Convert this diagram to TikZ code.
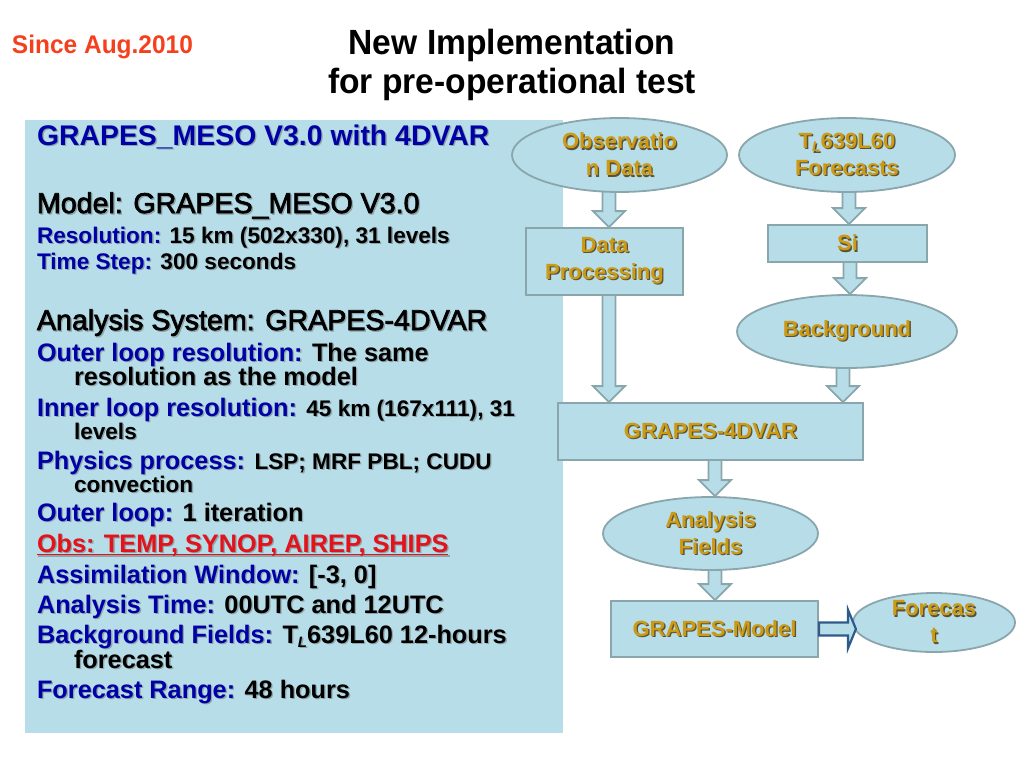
\documentclass[tikz,border=0pt]{standalone}
\usepackage{fontspec}
\setmainfont{Liberation Sans}
\newfontfamily\titlef[FakeStretch=0.96]{Liberation Sans}
\newfontfamily\medf[FakeBold=2.5]{Liberation Sans}
\usetikzlibrary{shapes.geometric,calc}
\definecolor{panelfill}{HTML}{B7DDE8}
\definecolor{nodeline}{HTML}{8AA6AD}
\definecolor{dblue}{HTML}{0000A6}
\definecolor{obsred}{HTML}{E3121B}
\definecolor{gold}{HTML}{CC9A14}
\definecolor{goldsh}{HTML}{5B5236}
\definecolor{bodysh}{HTML}{8EA4A9}
\definecolor{since}{HTML}{F5401E}
\definecolor{harrowc}{HTML}{2F5B8C}
\pgfdeclarelayer{bg}\pgfsetlayers{bg,main}
\newcommand\gobblearg[1]{}
\newcommand\shd[2]{\makebox[0pt][l]{\kern1.3pt\raisebox{-1.3pt}{\color{#1}\let\color\gobblearg #2}}#2}
\newcommand\bs[1]{\shd{bodysh}{#1}}
\newcommand\gs[1]{\shd{goldsh}{#1}}
\newcommand\myul[1]{{\setbox0=\hbox{#1}\rlap{\rule[-3.4pt]{\wd0}{1.8pt}}\box0}}
\newcommand\fH{\bfseries\fontsize{28.4}{30}\selectfont}
\newcommand\fM{\medf\fontsize{28.6}{31}\selectfont}
\newcommand\fS{\bfseries\fontsize{25.3}{27}\selectfont}
\newcommand\fR{\bfseries\fontsize{22.6}{24}\selectfont}
\newcommand\fN{\bfseries\fontsize{22}{27}\selectfont}
\newcommand\subL[1]{\raisebox{-0.3ex}{\fontsize{#1}{#1}\selectfont\itshape L}}
\newcommand\varrow[3]{%
\begin{pgfonlayer}{bg}
\draw[barrow] ($(#1,0 |- #2.south)+(-6.5,-8)$) -- ($(#1,0 |- #3.north)+(-6.5,-16)$) -- ($(#1,0 |- #3.north)+(-16,-16)$) -- (#1,0 |- #3.north) -- ($(#1,0 |- #3.north)+(16,-16)$) -- ($(#1,0 |- #3.north)+(6.5,-16)$) -- ($(#1,0 |- #2.south)+(6.5,-8)$) -- cycle;
\end{pgfonlayer}}
\begin{document}
\begin{tikzpicture}[x=1pt,y=-1pt,
  line/.style={anchor=base west, inner sep=0pt, outer sep=0pt},
  boxnode/.style={draw=nodeline, line width=1.8pt, fill=panelfill, rectangle, inner sep=0pt, font=\fN, text=gold, align=center},
  ellnode/.style={boxnode, ellipse, inner xsep=0pt, inner ysep=-8pt},
  barrow/.style={draw=nodeline, line width=1.8pt, fill=panelfill, line join=miter},
  harrow/.style={draw=harrowc, line width=2.2pt, fill=panelfill, line join=miter}]
\useasboundingbox (0,0) rectangle (1024,768);
% title
\node[line, text=since, font=\titlef\bfseries\fontsize{25.5}{27}\selectfont] (since) at (12,53) {Since Aug.2010};
\node[anchor=base, inner sep=0pt, font=\titlef\bfseries\fontsize{35}{38}\selectfont] (t1) at (512,55) {New Implementation};
\node[anchor=base, inner sep=0pt, font=\titlef\bfseries\fontsize{35}{38}\selectfont] (t2) at (512,93) {for pre-operational test};
% left panel
\node[fill=panelfill, inner sep=0pt, minimum width=538pt, minimum height=613pt] (panel) at (294,426.5) {};
\node[line, font=\fH, text=dblue] (l1) at (37,145) {\bs{GRAPES\_MESO V3.0 with 4DVAR}};
\node[line, font=\fM] (l2) at (37,213) {\bs{Model: GRAPES\_MESO V3.0}};
\node[line, font=\fR] (l3) at (37,243) {\bs{{\color{dblue}Resolution:} 15 km (502x330), 31 levels}};
\node[line, font=\fR] (l4) at (37,269) {\bs{{\color{dblue}Time Step:} 300 seconds}};
\node[line, font=\fM] (l5) at (37,330) {\bs{Analysis System: GRAPES-4DVAR}};
\node[line, font=\fS] (l6) at (37,361) {\bs{{\color{dblue}Outer loop resolution:} The same}};
\node[line, font=\fS] (l7) at (74,385) {\bs{resolution as the model}};
\node[line, font=\fS] (l8) at (37,416) {\bs{{\color{dblue}Inner loop resolution:} {\fR 45 km (167x111), 31}}};
\node[line, font=\fR] (l9) at (74,439) {\bs{levels}};
\node[line, font=\fS] (l10) at (37,469) {\bs{{\color{dblue}Physics process:} {\fR LSP; MRF PBL; CUDU}}};
\node[line, font=\fR] (l11) at (74,492) {\bs{convection}};
\node[line, font=\fS] (l12) at (37,521) {\bs{{\color{dblue}Outer loop:} 1 iteration}};
\node[line, font=\fS, text=obsred] (l13) at (37,552) {\bs{\myul{Obs: TEMP, SYNOP, AIREP, SHIPS}}};
\node[line, font=\fS] (l14) at (37,583) {\bs{{\color{dblue}Assimilation Window:} [-3, 0]}};
\node[line, font=\fS] (l15) at (37,613) {\bs{{\color{dblue}Analysis Time:} 00UTC and 12UTC}};
\node[line, font=\fS] (l16) at (37,643) {\bs{{\color{dblue}Background Fields:} T\subL{15}639L60 12-hours}};
\node[line, font=\fS] (l17) at (74,668) {\bs{forecast}};
\node[line, font=\fS] (l18) at (37,698) {\bs{{\color{dblue}Forecast Range:} 48 hours}};
% flow chart
\node[ellnode, minimum width=215pt, minimum height=74pt] (obs) at (619.5,155) {\gs{Observatio}\\\gs{n Data}};
\node[ellnode, minimum width=216pt, minimum height=74pt] (tl) at (847,155) {\gs{T\subL{14}639L60}\\\gs{Forecasts}};
\node[boxnode, minimum width=157pt, minimum height=67pt] (dp) at (604.5,261.5) {\gs{Data}\\\gs{Processing}};
\node[boxnode, minimum width=159pt, minimum height=37pt] (si) at (847.5,243.5) {\gs{Si}};
\node[ellnode, minimum width=220pt, minimum height=73pt] (bg) at (847,331.5) {\gs{Background}};
\node[boxnode, minimum width=305pt, minimum height=57pt] (gv) at (710.5,431.5) {\gs{GRAPES-4DVAR}};
\node[ellnode, minimum width=215pt, minimum height=73pt] (af) at (710.5,533.5) {\gs{Analysis}\\\gs{Fields}};
\node[boxnode, minimum width=207pt, minimum height=56pt] (gm) at (714.5,629) {\gs{GRAPES-Model}};
\node[ellnode, minimum width=162pt, minimum height=59pt] (fc) at (934,622.5) {\gs{Forecas}\\\gs{t}};
% block arrows
\varrow{609}{obs}{dp}
\varrow{609}{dp}{gv}
\varrow{849}{tl}{si}
\varrow{850}{si}{bg}
\varrow{843}{bg}{gv}
\varrow{715}{gv}{af}
\varrow{715}{af}{gm}
\draw[harrow] ($(gm.east)+(0,-6.5)$) -- ++(29,0) -- ++(0,-13) -- ($(gm.east)+(37,0)$) -- ($(gm.east)+(29,19.5)$) -- ++(0,-13) -- ($(gm.east)+(0,6.5)$) -- cycle;
\end{tikzpicture}
\end{document}
